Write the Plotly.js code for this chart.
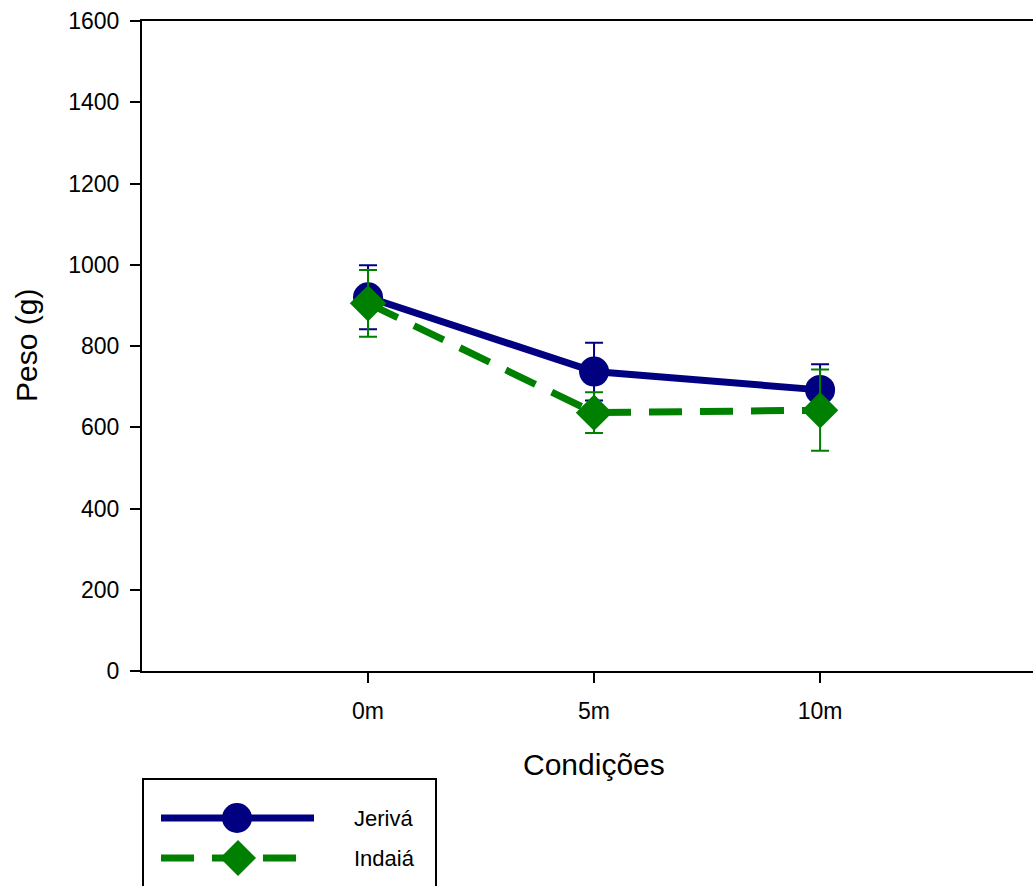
<!DOCTYPE html>
<html>
<head>
<meta charset="utf-8">
<script src="https://cdn.plot.ly/plotly-3.0.1.min.js"></script>
<style>
  html, body { margin: 0; padding: 0; background: #fff; }
  #chart { width: 1033px; height: 886px; }
</style>
</head>
<body>
<div id="chart"></div>
<script>
// Peso médio (g) por condição, com desvio (barras de erro)
const categories = ['0m', '5m', '10m'];
const jerivaValues = [920, 737, 692];
const jerivaErrors = [79, 71, 63];
const indaiaValues = [905, 636, 642];
const indaiaErrors = [82, 50, 100];
const yTickValues = [0, 200, 400, 600, 800, 1000, 1200, 1400, 1600];

const NAVY = '#000080';
const GREEN = '#008000';
const FONT = 'Liberation Sans, Arial, sans-serif';

const traces = [
  {
    name: 'Jerivá',
    x: categories,
    y: jerivaValues,
    type: 'scatter',
    mode: 'lines+markers',
    line: { color: NAVY, width: 7 },
    marker: { symbol: 'circle', size: 30, color: NAVY, line: { width: 0 } },
    error_y: { type: 'data', array: jerivaErrors, visible: true, color: NAVY, thickness: 2, width: 9 },
    showlegend: false
  },
  {
    name: 'Indaiá',
    x: categories,
    y: indaiaValues,
    type: 'scatter',
    mode: 'lines+markers',
    line: { color: GREEN, width: 7, dash: '33px,18px' },
    marker: { symbol: 'diamond', size: 28, color: GREEN, line: { width: 0 } },
    error_y: { type: 'data', array: indaiaErrors, visible: true, color: GREEN, thickness: 2, width: 9 },
    showlegend: false
  }
];

// Legend box drawn below the axis, with long line samples
const plotH = 650;          // plot area height in px
const toPaperY = px => -px / plotH;   // px measured downward from the x axis
const plotW = 891;
const toPaperX = px => px / plotW;    // px measured rightward from the y axis

const legendShapes = [
  { type: 'rect', xref: 'paper', yref: 'paper',
    x0: toPaperX(1), x1: toPaperX(294), y0: toPaperY(108), y1: toPaperY(240),
    line: { color: '#000', width: 2 }, fillcolor: 'rgba(0,0,0,0)' },
  { type: 'line', xref: 'paper', yref: 'paper',
    x0: toPaperX(19), x1: toPaperX(172), y0: toPaperY(147), y1: toPaperY(147),
    line: { color: NAVY, width: 7 } },
  { type: 'circle', xref: 'paper', yref: 'paper', xsizemode: 'pixel', ysizemode: 'pixel',
    xanchor: toPaperX(95), yanchor: toPaperY(147), x0: -15, x1: 15, y0: -15, y1: 15,
    fillcolor: NAVY, line: { width: 0 } },
  { type: 'line', xref: 'paper', yref: 'paper',
    x0: toPaperX(19), x1: toPaperX(154), y0: toPaperY(187), y1: toPaperY(187),
    line: { color: GREEN, width: 7, dash: '33px,18px' } },
  { type: 'path', xref: 'paper', yref: 'paper', xsizemode: 'pixel', ysizemode: 'pixel',
    xanchor: toPaperX(96), yanchor: toPaperY(187),
    path: 'M 0 18 L 18 0 L 0 -18 L -18 0 Z',
    fillcolor: GREEN, line: { width: 0 } }
];

const legendLabels = [
  { text: 'Jerivá', x: toPaperX(210), y: toPaperY(147) },
  { text: 'Indaiá', x: toPaperX(210), y: toPaperY(187) }
].map(l => ({
  text: l.text, xref: 'paper', yref: 'paper', x: l.x, y: l.y,
  xanchor: 'left', yanchor: 'middle', showarrow: false,
  font: { family: FONT, size: 22, color: '#000' }
}));

const layout = {
  width: 1033,
  height: 886,
  margin: { l: 142, r: 0, t: 21, b: 215, pad: 0 },
  paper_bgcolor: '#fff',
  plot_bgcolor: '#fff',
  font: { family: FONT, color: '#000' },
  xaxis: {
    type: 'category',
    range: [-1, 2.942],
    showgrid: false,
    zeroline: false,
    showline: true,
    linecolor: '#000',
    linewidth: 2,
    mirror: true,
    ticks: 'outside',
    ticklen: 10,
    tickwidth: 2,
    tickcolor: '#000',
    ticklabelstandoff: 8,
    tickfont: { family: FONT, size: 23, color: '#000' }
  },
  yaxis: {
    range: [0, 1600],
    tickvals: yTickValues,
    showgrid: false,
    zeroline: false,
    showline: true,
    linecolor: '#000',
    linewidth: 2,
    ticks: 'outside',
    ticklen: 10,
    tickwidth: 2,
    tickcolor: '#000',
    ticklabelstandoff: 6,
    tickfont: { family: FONT, size: 23, color: '#000' }
  },
  shapes: legendShapes,
  annotations: [
    { text: 'Condições', xref: 'x', yref: 'paper', x: 1, y: toPaperY(93),
      xanchor: 'center', yanchor: 'middle', showarrow: false,
      font: { family: FONT, size: 30, color: '#000' } },
    { text: 'Peso (g)', xref: 'paper', yref: 'paper', x: toPaperX(-116), y: 0.5,
      xanchor: 'center', yanchor: 'middle', textangle: -90, showarrow: false,
      font: { family: FONT, size: 30, color: '#000' } }
  ].concat(legendLabels)
};

Plotly.newPlot('chart', traces, layout, { displayModeBar: false, staticPlot: true });
</script>
</body>
</html>
